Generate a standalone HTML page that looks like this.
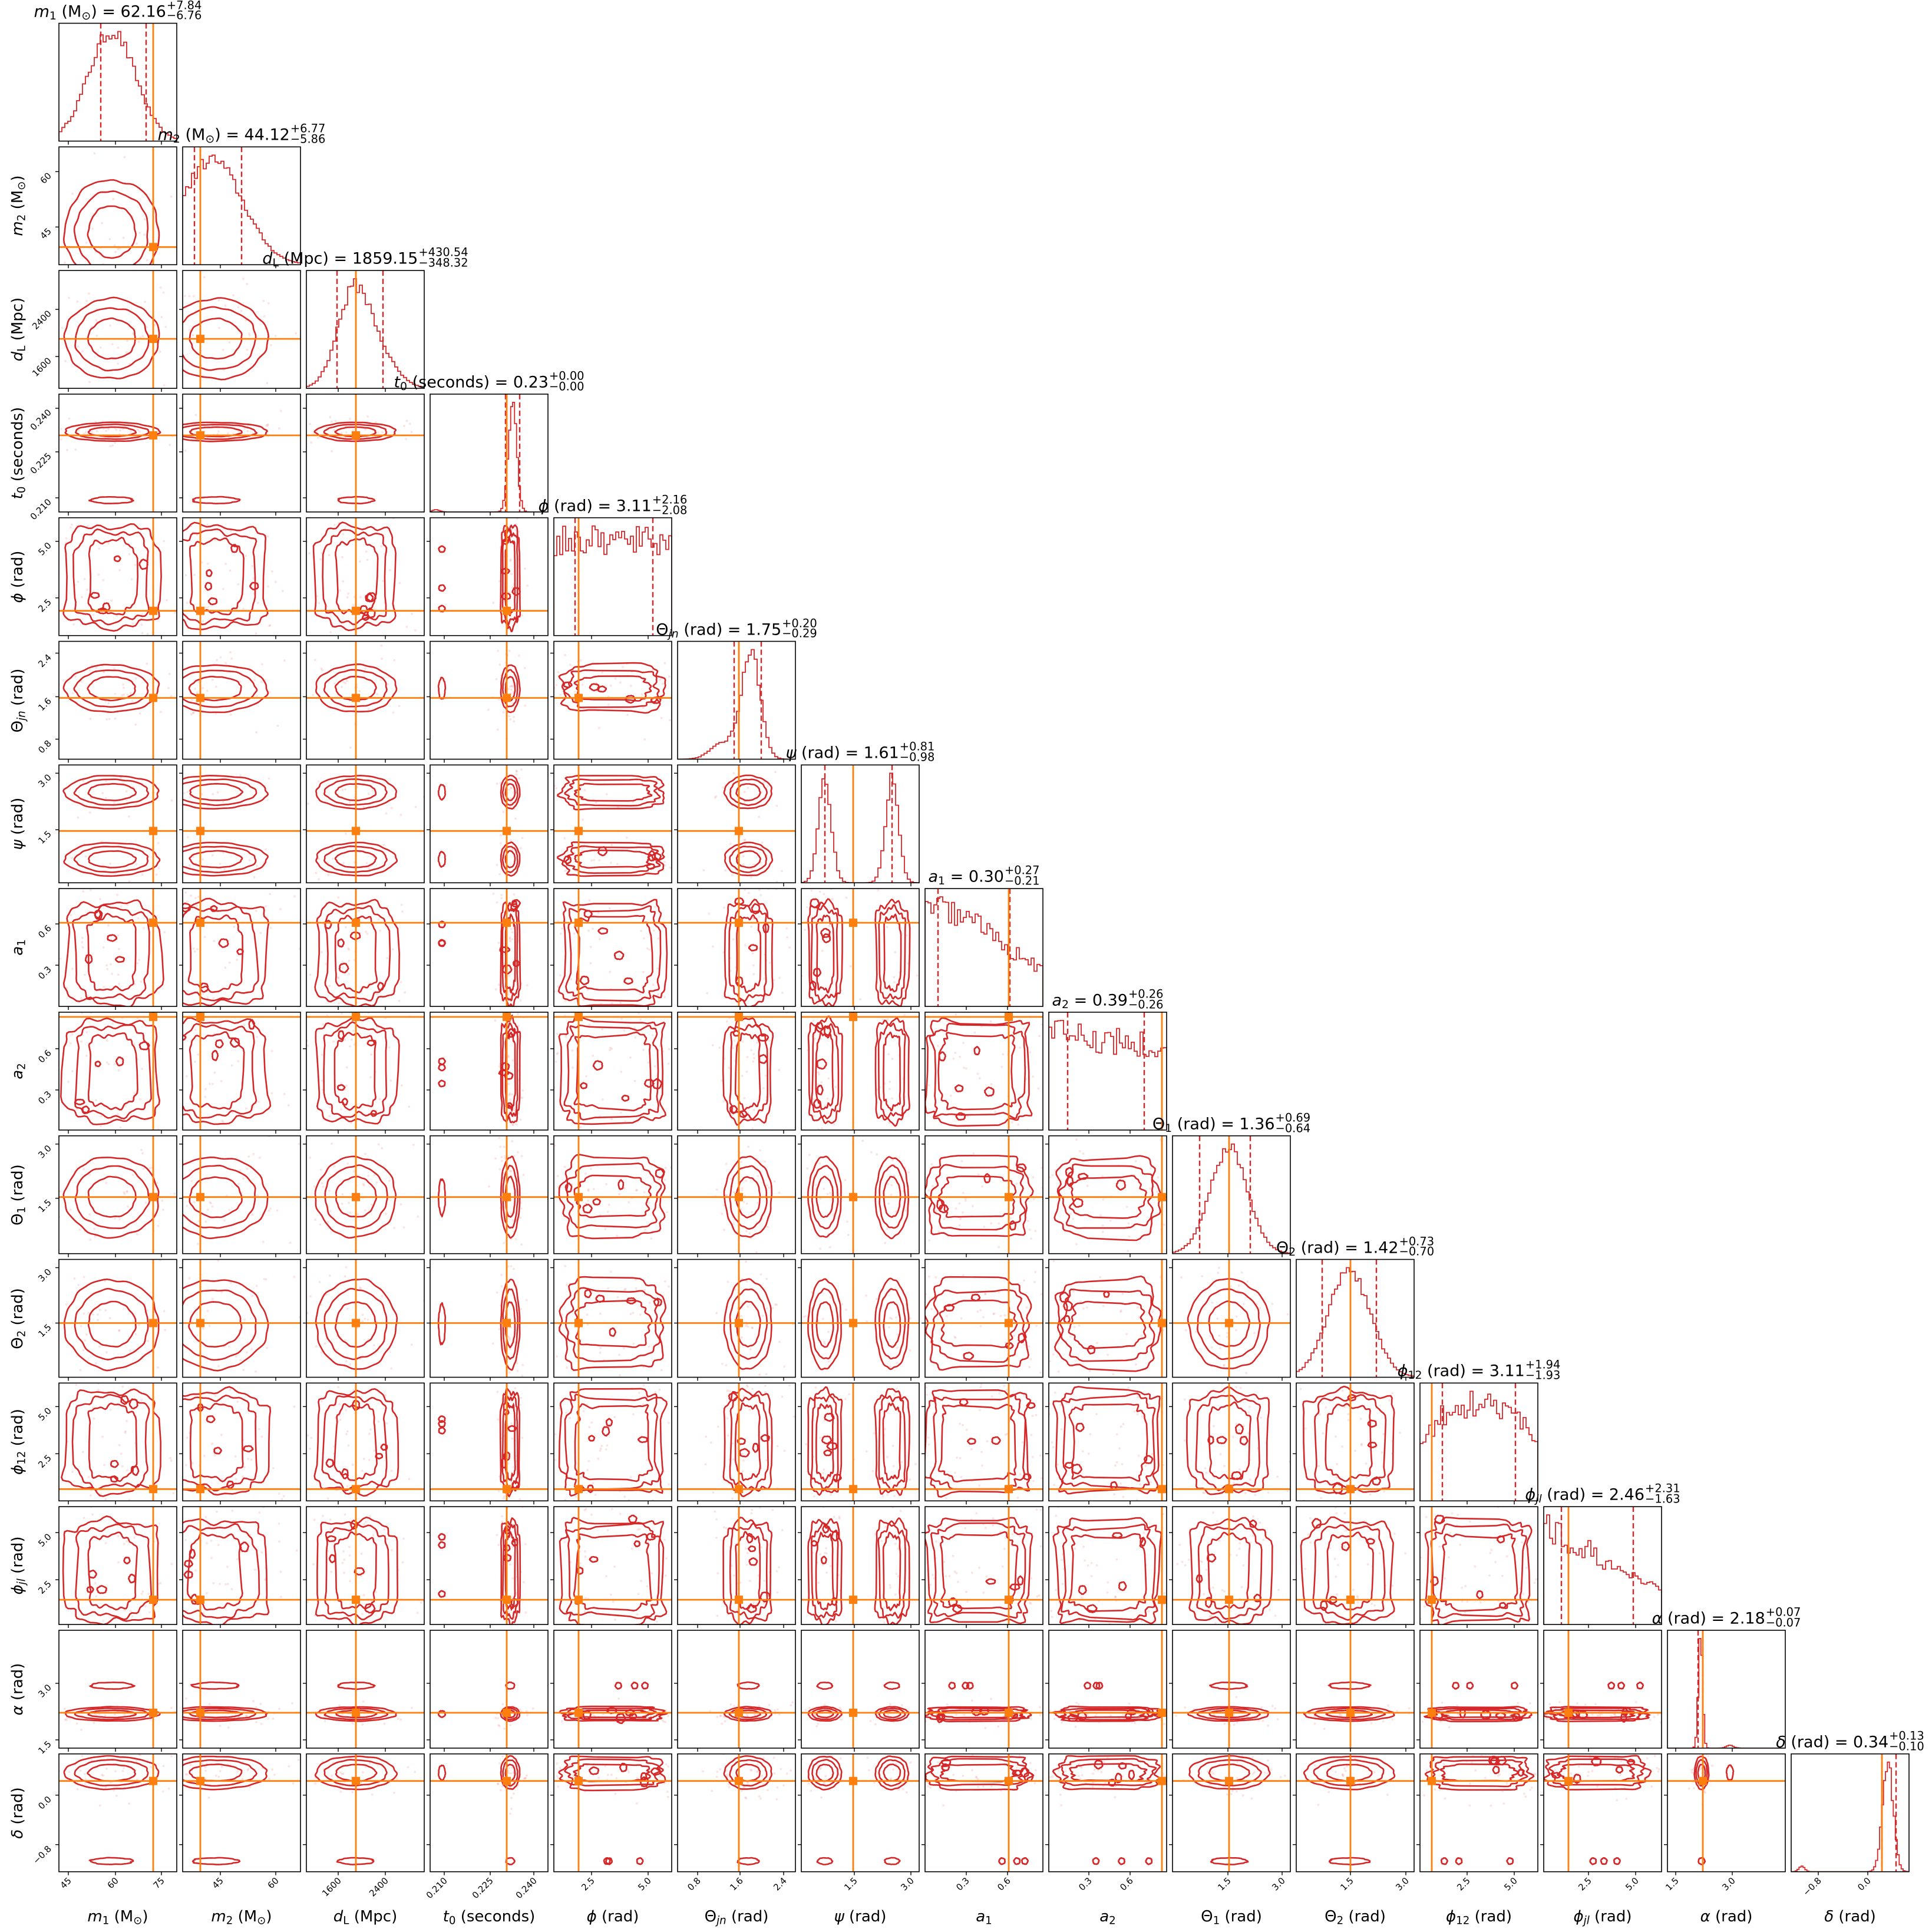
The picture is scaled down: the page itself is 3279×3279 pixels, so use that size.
<!DOCTYPE html>
<html><head><meta charset="utf-8">
<style>
html,body{margin:0;padding:0;background:#fff;}
#wrap{position:relative;width:3279px;height:3279px;overflow:hidden;background:#fff;font-family:"DejaVu Sans","Liberation Sans",sans-serif;color:#000;}
svg{position:absolute;left:0;top:0;}
.t{position:absolute;white-space:nowrap;font-size:27px;line-height:1;transform:translate(-50%,-100%);}
.xl{position:absolute;white-space:nowrap;font-size:26px;line-height:1;transform:translate(-50%,-50%);}
.yl{position:absolute;white-space:nowrap;font-size:26px;line-height:1;transform:translate(-50%,-50%) rotate(-90deg);}
.pm{display:inline-block;vertical-align:-0.25em;font-size:0.72em;line-height:0.92;margin-left:1px;}
.pm span{display:block;}
sub{font-size:0.7em;vertical-align:-0.25em;line-height:0;}
i{font-style:italic;}
</style></head><body><div id="wrap">
<svg id="s" width="3279" height="3279" xmlns="http://www.w3.org/2000/svg"></svg>
</div>
<script>
const NS='http://www.w3.org/2000/svg';
const S=document.getElementById('s');
const W=document.getElementById('wrap');
let seed=12345;function rnd(){seed=(seed*16807)%2147483647;return (seed-1)/2147483646;}
function gn(){let u=rnd()||1e-6,v=rnd();return Math.sqrt(-2*Math.log(u))*Math.cos(2*Math.PI*v);}
function g(x,c,s){return Math.exp(-0.5*((x-c)/s)**2);}
const X=i=>100+210*i, Y=j=>39.5+209.8*j, P=200;
const RED='#d62728', OR='#ff7f0e';
const V=[
{m:[[.45,.2]],u:0,t:.8,q:[.355,.74],h:x=>g(x,.45,.2),tk:[[.08,'45'],[.48,'60'],[.87,'75']],
 T:'<i>m</i><sub>1</sub> (M<sub>⊙</sub>) = 62.16',p:['+7.84','−6.76'],L:'<i>m</i><sub>1</sub> (M<sub>⊙</sub>)'},
{m:[[.28,.22]],u:0,t:.15,q:[.1,.5],h:x=>g(x,.25,.26),tk:[[.32,'45'],[.79,'60']],
 T:'<i>m</i><sub>2</sub> (M<sub>⊙</sub>) = 44.12',p:['+6.77','−5.86'],L:'<i>m</i><sub>2</sub> (M<sub>⊙</sub>)'},
{m:[[.42,.17]],u:0,t:.42,q:[.26,.65],h:x=>g(x,.4,.14)+.3*g(x,.62,.15),tk:[[.27,'1600'],[.67,'2400']],
 T:'<i>d</i><sub>L</sub> (Mpc) = 1859.15',p:['+430.54','−348.32'],L:'<i>d</i><sub>L</sub> (Mpc)'},
{m:[[.68,.04]],mi:[[.1,.02]],u:0,t:.65,q:[.64,.76],h:x=>g(x,.7,.035)+.02*g(x,.05,.03),nb:60,tk:[[.12,'0.210'],[.51,'0.225'],[.88,'0.240']],
 T:'<i>t</i><sub>0</sub> (seconds) = 0.23',p:['+0.00','−0.00'],L:'<i>t</i><sub>0</sub> (seconds)'},
{m:[[.5,.3]],u:1,t:.21,q:[.18,.84],h:x=>.85,tk:[[.32,'2.5'],[.8,'5.0']],
 T:'<i>ϕ</i> (rad) = 3.11',p:['+2.16','−2.08'],L:'<i>ϕ</i> (rad)'},
{m:[[.6,.1]],u:0,t:.52,q:[.48,.71],h:x=>g(x,.62,.08)+.15*g(x,.38,.1),tk:[[.17,'0.8'],[.53,'1.6'],[.9,'2.4']],
 T:'Θ<sub><i>jn</i></sub> (rad) = 1.75',p:['+0.20','−0.29'],L:'Θ<sub><i>jn</i></sub> (rad)'},
{m:[[.2,.07],[.77,.07]],u:0,t:.44,q:[.2,.77],h:x=>g(x,.2,.055)+g(x,.77,.055),tk:[[.45,'1.5'],[.93,'3.0']],
 T:'<i>ψ</i> (rad) = 1.61',p:['+0.81','−0.98'],L:'<i>ψ</i> (rad)'},
{m:[[.45,.3]],u:1,t:.71,q:[.11,.72],h:x=>.95-.65*x,tk:[[.35,'0.3'],[.7,'0.6']],
 T:'<i>a</i><sub>1</sub> = 0.30',p:['+0.27','−0.21'],L:'<i>a</i><sub>1</sub>'},
{m:[[.5,.3]],u:1,t:.96,q:[.16,.81],h:x=>.85-.1*x,tk:[[.34,'0.3'],[.69,'0.6']],
 T:'<i>a</i><sub>2</sub> = 0.39',p:['+0.26','−0.26'],L:'<i>a</i><sub>2</sub>'},
{m:[[.48,.17]],u:0,t:.48,q:[.23,.66],h:x=>g(x,.48,.16),tk:[[.47,'1.5'],[.93,'3.0']],
 T:'Θ<sub>1</sub> (rad) = 1.36',p:['+0.69','−0.64'],L:'Θ<sub>1</sub> (rad)'},
{m:[[.45,.19]],u:0,t:.46,q:[.22,.68],h:x=>g(x,.45,.18),tk:[[.46,'1.5'],[.93,'3.0']],
 T:'Θ<sub>2</sub> (rad) = 1.42',p:['+0.73','−0.70'],L:'Θ<sub>2</sub> (rad)'},
{m:[[.5,.3]],u:1,t:.1,q:[.19,.81],h:x=>.62+.3*Math.sin(Math.PI*Math.min(1,x*1.05)),tk:[[.4,'2.5'],[.8,'5.0']],
 T:'<i>ϕ</i><sub>12</sub> (rad) = 3.11',p:['+1.94','−1.93'],L:'<i>ϕ</i><sub>12</sub> (rad)'},
{m:[[.45,.3]],u:1,t:.21,q:[.15,.76],h:x=>.95-.65*x,tk:[[.38,'2.5'],[.78,'5.0']],
 T:'<i>ϕ</i><sub><i>jl</i></sub> (rad) = 2.46',p:['+2.31','−1.63'],L:'<i>ϕ</i><sub><i>jl</i></sub> (rad)'},
{m:[[.29,.03]],mi:[[.53,.02]],u:0,t:.3,q:[.26,.3],h:x=>g(x,.28,.018)+.025*g(x,.53,.03),nb:60,tk:[[.07,'1.5'],[.55,'3.0']],
 T:'<i>α</i> (rad) = 2.18',p:['+0.07','−0.07'],L:'<i>α</i> (rad)'},
{m:[[.84,.07]],mi:[[.09,.02]],u:0,t:.77,q:[.77,.89],h:x=>g(x,.82,.045)+.05*g(x,.09,.025),nb:60,tk:[[.23,'−0.8'],[.65,'0.0']],
 T:'<i>δ</i> (rad) = 0.34',p:['+0.13','−0.10'],L:'<i>δ</i> (rad)'}
];
let out='';
function line(x1,y1,x2,y2,c,w,extra){return `<line x1="${x1}" y1="${y1}" x2="${x2}" y2="${y2}" stroke="${c}" stroke-width="${w}" ${extra||''}/>`;}
function curve(cx,cy,rx,ry,pa,pb,amp){
 let a=rnd()*6.28,b=rnd()*6.28,c=rnd()*6.28,d='';
 const N=90;
 for(let k=0;k<=N;k++){
  const th=k/N*2*Math.PI;
  const f=1+amp*(Math.sin(5*th+a)+.6*Math.sin(11*th+b)+.4*Math.sin(17*th+c));
  const co=Math.cos(th),si=Math.sin(th);
  const x=cx+rx*f*Math.sign(co)*Math.pow(Math.abs(co),2/pa);
  const y=cy-ry*f*Math.sign(si)*Math.pow(Math.abs(si),2/pb);
  d+=(k?'L':'M')+(x*P).toFixed(1)+','+((1-y)*P).toFixed(1);
 }
 return `<path d="${d}Z" fill="none" stroke="${RED}" stroke-width="2.6"/>`;
}
const KS=[1.0,1.55,2.0], KU=[.31,.38,.43];
function minorBlobs(mi,other,horiz){
 // mi: minor mode on one axis; other: variable on other axis
 let s='';
 if(other.u){
  for(let n=0;n<3;n++){const p=.15+.7*rnd();s+=horiz?curve(p,mi[0],.025,mi[1]*1.3,2,2,.05):curve(mi[0],p,mi[1]*1.3,.025,2,2,.05);}
 } else other.m.forEach(m=>{
  s+=horiz?curve(m[0],mi[0],m[1]*0.9,mi[1]*1.4,2,2,.04):curve(mi[0],m[0],mi[1]*1.4,m[1]*0.9,2,2,.04);
 });
 return s;
}
for(let j=0;j<15;j++){
 for(let i=0;i<=j;i++){
  const x0=X(i),y0=Y(j);
  let inner='';
  const a=V[i],b=V[j];
  if(i===j){
   const nb=a.nb||40;let vals=[],mx=0;
   for(let k=0;k<nb;k++){const xc=(k+.5)/nb;let v=a.h(xc)*(1+(a.u?0.16:0.07)*(rnd()-.5)*2);if(v<0)v=0;vals.push(v);if(v>mx)mx=v;}
   let d='M0,'+P;
   for(let k=0;k<nb;k++){const yy=P-vals[k]/mx*0.93*P;d+=`L${(k/nb*P).toFixed(1)},${yy.toFixed(1)}L${((k+1)/nb*P).toFixed(1)},${yy.toFixed(1)}`;}
   d+='L'+P+','+P;
   inner+=`<path d="${d}" fill="none" stroke="${RED}" stroke-width="1.8"/>`;
   a.q.forEach(q=>inner+=line(q*P,0,q*P,P,RED,2.4,'stroke-dasharray="9,5"'));
   inner+=line(a.t*P,0,a.t*P,P,OR,2.8);
  } else {
   for(let n=0;n<45;n++){
    const ma=a.m[Math.floor(rnd()*a.m.length)],mb=b.m[Math.floor(rnd()*b.m.length)];
    const px=a.u?rnd():ma[0]+gn()*ma[1]*1.6, py=b.u?rnd():mb[0]+gn()*mb[1]*1.6;
    inner+=`<circle cx="${(px*P).toFixed(1)}" cy="${((1-py)*P).toFixed(1)}" r="2" fill="rgba(214,39,40,0.12)"/>`;
   }
   const pa=a.u?7:2,pb=b.u?7:2,amp=(a.u||b.u)?0.05:0.02;
   a.m.forEach(ma=>b.m.forEach(mb=>{
    for(let k=0;k<3;k++){
     const rx=a.u?KU[k]:ma[1]*KS[k], ry=b.u?KU[k]:mb[1]*KS[k];
     inner+=curve(ma[0],mb[0],rx,ry,pa,pb,amp);
    }
   }));
   if(a.u||b.u){
    for(let n=0;n<5;n++){
     const cx=a.u?.1+.8*rnd():a.m[0][0]+(rnd()-.5)*a.m[0][1]*3;
     const cy=b.u?.1+.8*rnd():b.m[0][0]+(rnd()-.5)*b.m[0][1]*3;
     inner+=curve(cx,cy,.02+.02*rnd(),.02+.02*rnd(),2,2,.05);
    }
   }
   if(a.mi) a.mi.forEach(mi=>inner+=minorBlobs(mi,b,false));
   if(b.mi) b.mi.forEach(mi=>inner+=minorBlobs(mi,a,true));
   const tx=a.t*P,ty=(1-b.t)*P;
   inner+=line(tx,0,tx,P,OR,2.8)+line(0,ty,P,ty,OR,2.8);
   inner+=`<rect x="${tx-7}" y="${ty-7}" width="14" height="14" fill="${OR}"/>`;
  }
  out+=`<svg x="${x0}" y="${y0}" width="${P}" height="${P}" viewBox="0 0 ${P} ${P}">${inner}</svg>`;
  out+=`<rect x="${x0}" y="${y0}" width="${P}" height="${P}" fill="none" stroke="#000" stroke-width="1.6"/>`;
  a.tk.forEach(t=>{const xx=x0+t[0]*P;out+=line(xx,y0+P,xx,y0+P+6,'#000',1.4);});
  if(i!==j) b.tk.forEach(t=>{const yy=y0+(1-t[0])*P;out+=line(x0,yy,x0-6,yy,'#000',1.4);});
  if(j===14) a.tk.forEach(t=>{const xx=x0+t[0]*P;out+=`<text font-size="15" font-family="DejaVu Sans,Liberation Sans,sans-serif" text-anchor="end" transform="translate(${xx+6},${y0+P+16}) rotate(-45)">${t[1]}</text>`;});
  if(i===0&&j>0) b.tk.forEach(t=>{const yy=y0+(1-t[0])*P;out+=`<text font-size="15" font-family="DejaVu Sans,Liberation Sans,sans-serif" text-anchor="end" transform="translate(${x0-12},${yy+8}) rotate(-45)">${t[1]}</text>`;});
 }
}
S.innerHTML=out;
let h='';
V.forEach((v,k)=>{
 h+=`<div class="t" style="left:${X(k)+100}px;top:${Y(k)-4}px">${v.T}<span class="pm"><span>${v.p[0]}</span><span>${v.p[1]}</span></span></div>`;
 h+=`<div class="xl" style="left:${X(k)+100}px;top:3253px">${v.L}</div>`;
 if(k>0) h+=`<div class="yl" style="left:30px;top:${Y(k)+100}px">${v.L}</div>`;
});
W.insertAdjacentHTML('beforeend',h);
</script>
</body></html>
